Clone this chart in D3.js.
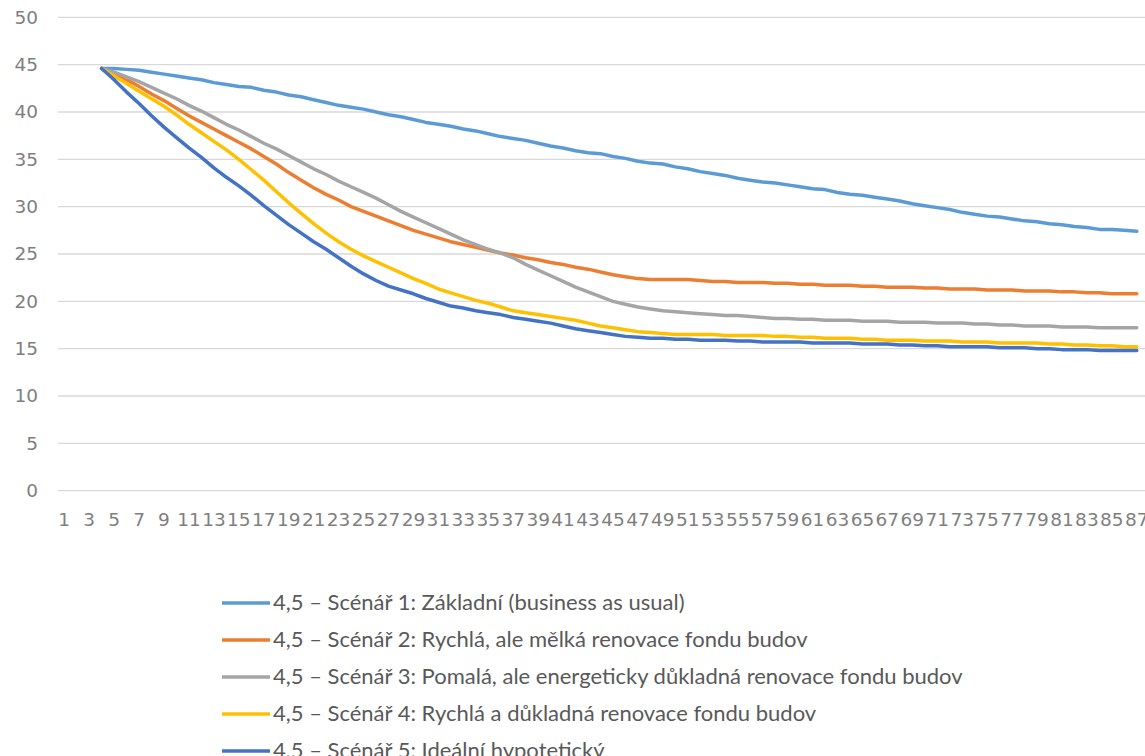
<!DOCTYPE html>
<html>
<head>
<meta charset="utf-8">
<script src="https://cdn.jsdelivr.net/npm/d3@7"></script>
<style>
  html, body { margin: 0; padding: 0; background: #fff; }
  svg { display: block; }
</style>
</head>
<body>
<svg id="chart" width="1145" height="756"></svg>
<script>
// ---------- DATA ----------
const categories = [1,2,3,4,5,6,7,8,9,10,11,12,13,14,15,16,17,18,19,20,21,22,23,24,25,26,27,28,29,30,
  31,32,33,34,35,36,37,38,39,40,41,42,43,44,45,46,47,48,49,50,51,52,53,54,55,56,57,58,59,60,
  61,62,63,64,65,66,67,68,69,70,71,72,73,74,75,76,77,78,79,80,81,82,83,84,85,86,87];

const yTicks = [0, 5, 10, 15, 20, 25, 30, 35, 40, 45, 50];

const seriesNames = [
  "4,5 – Scénář 1: Základní (business as usual)",
  "4,5 – Scénář 2: Rychlá, ale mělká renovace fondu budov",
  "4,5 – Scénář 3: Pomalá, ale energeticky důkladná renovace fondu budov",
  "4,5 – Scénář 4: Rychlá a důkladná renovace fondu budov",
  "4,5 – Scénář 5: Ideální hypotetický"
];

const seriesColors = ["#5B9BD5", "#ED7D31", "#A5A5A5", "#FFC000", "#4472C4"];

// values per category (categories 1–3 have no value)
const scenario1 = [null, null, null,
  44.6, 44.6, 44.5, 44.4, 44.2, 44.0, 43.8, 43.6, 43.4, 43.1,
  42.9, 42.7, 42.6, 42.3, 42.1, 41.8, 41.6, 41.3, 41.0, 40.7,
  40.5, 40.3, 40.0, 39.7, 39.5, 39.2, 38.9, 38.7, 38.5, 38.2,
  38.0, 37.7, 37.4, 37.2, 37.0, 36.7, 36.4, 36.2, 35.9, 35.7,
  35.6, 35.3, 35.1, 34.8, 34.6, 34.5, 34.2, 34.0, 33.7, 33.5,
  33.3, 33.0, 32.8, 32.6, 32.5, 32.3, 32.1, 31.9, 31.8, 31.5,
  31.3, 31.2, 31.0, 30.8, 30.6, 30.3, 30.1, 29.9, 29.7, 29.4,
  29.2, 29.0, 28.9, 28.7, 28.5, 28.4, 28.2, 28.1, 27.9, 27.8,
  27.6, 27.6, 27.5, 27.4];

const scenario2 = [null, null, null,
  44.6, 44.0, 43.4, 42.7, 41.9, 41.2, 40.4, 39.6, 38.9, 38.2,
  37.5, 36.8, 36.1, 35.3, 34.5, 33.6, 32.8, 32.0, 31.3, 30.7,
  30.0, 29.5, 29.0, 28.5, 28.0, 27.5, 27.1, 26.7, 26.3, 26.0,
  25.7, 25.4, 25.1, 24.9, 24.6, 24.4, 24.1, 23.9, 23.6, 23.4,
  23.1, 22.8, 22.6, 22.4, 22.3, 22.3, 22.3, 22.3, 22.2, 22.1,
  22.1, 22.0, 22.0, 22.0, 21.9, 21.9, 21.8, 21.8, 21.7, 21.7,
  21.7, 21.6, 21.6, 21.5, 21.5, 21.5, 21.4, 21.4, 21.3, 21.3,
  21.3, 21.2, 21.2, 21.2, 21.1, 21.1, 21.1, 21.0, 21.0, 20.9,
  20.9, 20.8, 20.8, 20.8];

const scenario3 = [null, null, null,
  44.6, 44.2, 43.7, 43.2, 42.6, 42.0, 41.4, 40.7, 40.1, 39.4,
  38.7, 38.1, 37.4, 36.7, 36.1, 35.4, 34.7, 34.0, 33.4, 32.7,
  32.1, 31.5, 30.9, 30.2, 29.5, 28.9, 28.3, 27.7, 27.1, 26.5,
  26.0, 25.5, 25.1, 24.6, 23.9, 23.3, 22.7, 22.1, 21.5, 21.0,
  20.5, 20.0, 19.7, 19.4, 19.2, 19.0, 18.9, 18.8, 18.7, 18.6,
  18.5, 18.5, 18.4, 18.3, 18.2, 18.2, 18.1, 18.1, 18.0, 18.0,
  18.0, 17.9, 17.9, 17.9, 17.8, 17.8, 17.8, 17.7, 17.7, 17.7,
  17.6, 17.6, 17.5, 17.5, 17.4, 17.4, 17.4, 17.3, 17.3, 17.3,
  17.2, 17.2, 17.2, 17.2];

const scenario4 = [null, null, null,
  44.6, 43.8, 43.0, 42.2, 41.4, 40.6, 39.7, 38.7, 37.8, 36.9,
  36.0, 35.0, 33.9, 32.8, 31.6, 30.4, 29.3, 28.2, 27.2, 26.3,
  25.5, 24.8, 24.2, 23.6, 23.0, 22.4, 21.9, 21.3, 20.9, 20.5,
  20.1, 19.8, 19.4, 19.0, 18.8, 18.6, 18.4, 18.2, 18.0, 17.7,
  17.4, 17.2, 17.0, 16.8, 16.7, 16.6, 16.5, 16.5, 16.5, 16.5,
  16.4, 16.4, 16.4, 16.4, 16.3, 16.3, 16.2, 16.2, 16.1, 16.1,
  16.1, 16.0, 16.0, 15.9, 15.9, 15.9, 15.8, 15.8, 15.8, 15.7,
  15.7, 15.7, 15.6, 15.6, 15.6, 15.6, 15.5, 15.5, 15.4, 15.4,
  15.3, 15.3, 15.2, 15.2];

const scenario5 = [null, null, null,
  44.6, 43.4, 42.1, 40.9, 39.6, 38.4, 37.3, 36.2, 35.2, 34.1,
  33.1, 32.2, 31.2, 30.1, 29.1, 28.1, 27.2, 26.3, 25.5, 24.6,
  23.7, 22.9, 22.2, 21.6, 21.2, 20.8, 20.3, 19.9, 19.5, 19.3,
  19.0, 18.8, 18.6, 18.3, 18.1, 17.9, 17.7, 17.4, 17.1, 16.9,
  16.7, 16.5, 16.3, 16.2, 16.1, 16.1, 16.0, 16.0, 15.9, 15.9,
  15.9, 15.8, 15.8, 15.7, 15.7, 15.7, 15.7, 15.6, 15.6, 15.6,
  15.6, 15.5, 15.5, 15.5, 15.4, 15.4, 15.3, 15.3, 15.2, 15.2,
  15.2, 15.2, 15.1, 15.1, 15.1, 15.0, 15.0, 14.9, 14.9, 14.9,
  14.8, 14.8, 14.8, 14.8];

const seriesValues = [scenario1, scenario2, scenario3, scenario4, scenario5];

// ---------- CHART ----------
const svg = d3.select("#chart");
const plot = { left: 58, right: 1143, top: 17.3, bottom: 490.7 };

const x = d3.scaleBand().domain(categories).range([plot.left, plot.right]).padding(0);
const y = d3.scaleLinear().domain([0, 50]).range([plot.bottom, plot.top]);
const xc = c => x(c) + x.bandwidth() / 2;

// gridlines
svg.append("g").selectAll("line").data(yTicks).join("line")
  .attr("x1", plot.left).attr("x2", 1145)
  .attr("y1", d => y(d)).attr("y2", d => y(d))
  .attr("stroke", "#d9d9d9").attr("stroke-width", 1.3);

// y axis labels
const yAxis = d3.axisLeft(y).tickValues(yTicks).tickSize(0).tickPadding(0);
const gy = svg.append("g").attr("transform", `translate(38,0)`).call(yAxis);
gy.select(".domain").remove();
gy.selectAll("text")
  .attr("font-family", "DejaVu Sans, sans-serif").attr("font-size", 18.5)
  .attr("fill", "#7f7f7f");

// x axis labels (every other category)
const xAxis = d3.axisBottom(x)
  .tickValues(categories.filter(c => c % 2 === 1))
  .tickSize(0).tickPadding(0);
const gx = svg.append("g").attr("transform", `translate(0,${plot.bottom + 22})`).call(xAxis);
gx.select(".domain").remove();
gx.selectAll("text")
  .attr("font-family", "DejaVu Sans, sans-serif").attr("font-size", 18.5)
  .attr("fill", "#7f7f7f");

// lines
const line = d3.line()
  .defined(d => d.v !== null)
  .x(d => xc(d.c))
  .y(d => y(d.v));

seriesValues.forEach((vals, i) => {
  const data = categories.map((c, j) => ({ c, v: vals[j] === undefined ? null : vals[j] }));
  svg.append("path")
    .datum(data)
    .attr("d", line)
    .attr("fill", "none")
    .attr("stroke", seriesColors[i])
    .attr("stroke-width", 3.5)
    .attr("stroke-linejoin", "round")
    .attr("stroke-linecap", "round");
});

// legend
const legendTop = 603, legendStep = 37;
const lg = svg.append("g");
seriesNames.forEach((name, i) => {
  const ly = legendTop + i * legendStep;
  lg.append("line")
    .attr("x1", 222).attr("x2", 270)
    .attr("y1", ly).attr("y2", ly)
    .attr("stroke", seriesColors[i]).attr("stroke-width", 3.5);
  lg.append("text")
    .attr("x", 273).attr("y", ly)
    .attr("dy", "0.32em")
    .attr("font-family", "Lato, sans-serif").attr("font-size", 22)
    .attr("fill", "#595959")
    .text(name);
});
</script>
</body>
</html>
